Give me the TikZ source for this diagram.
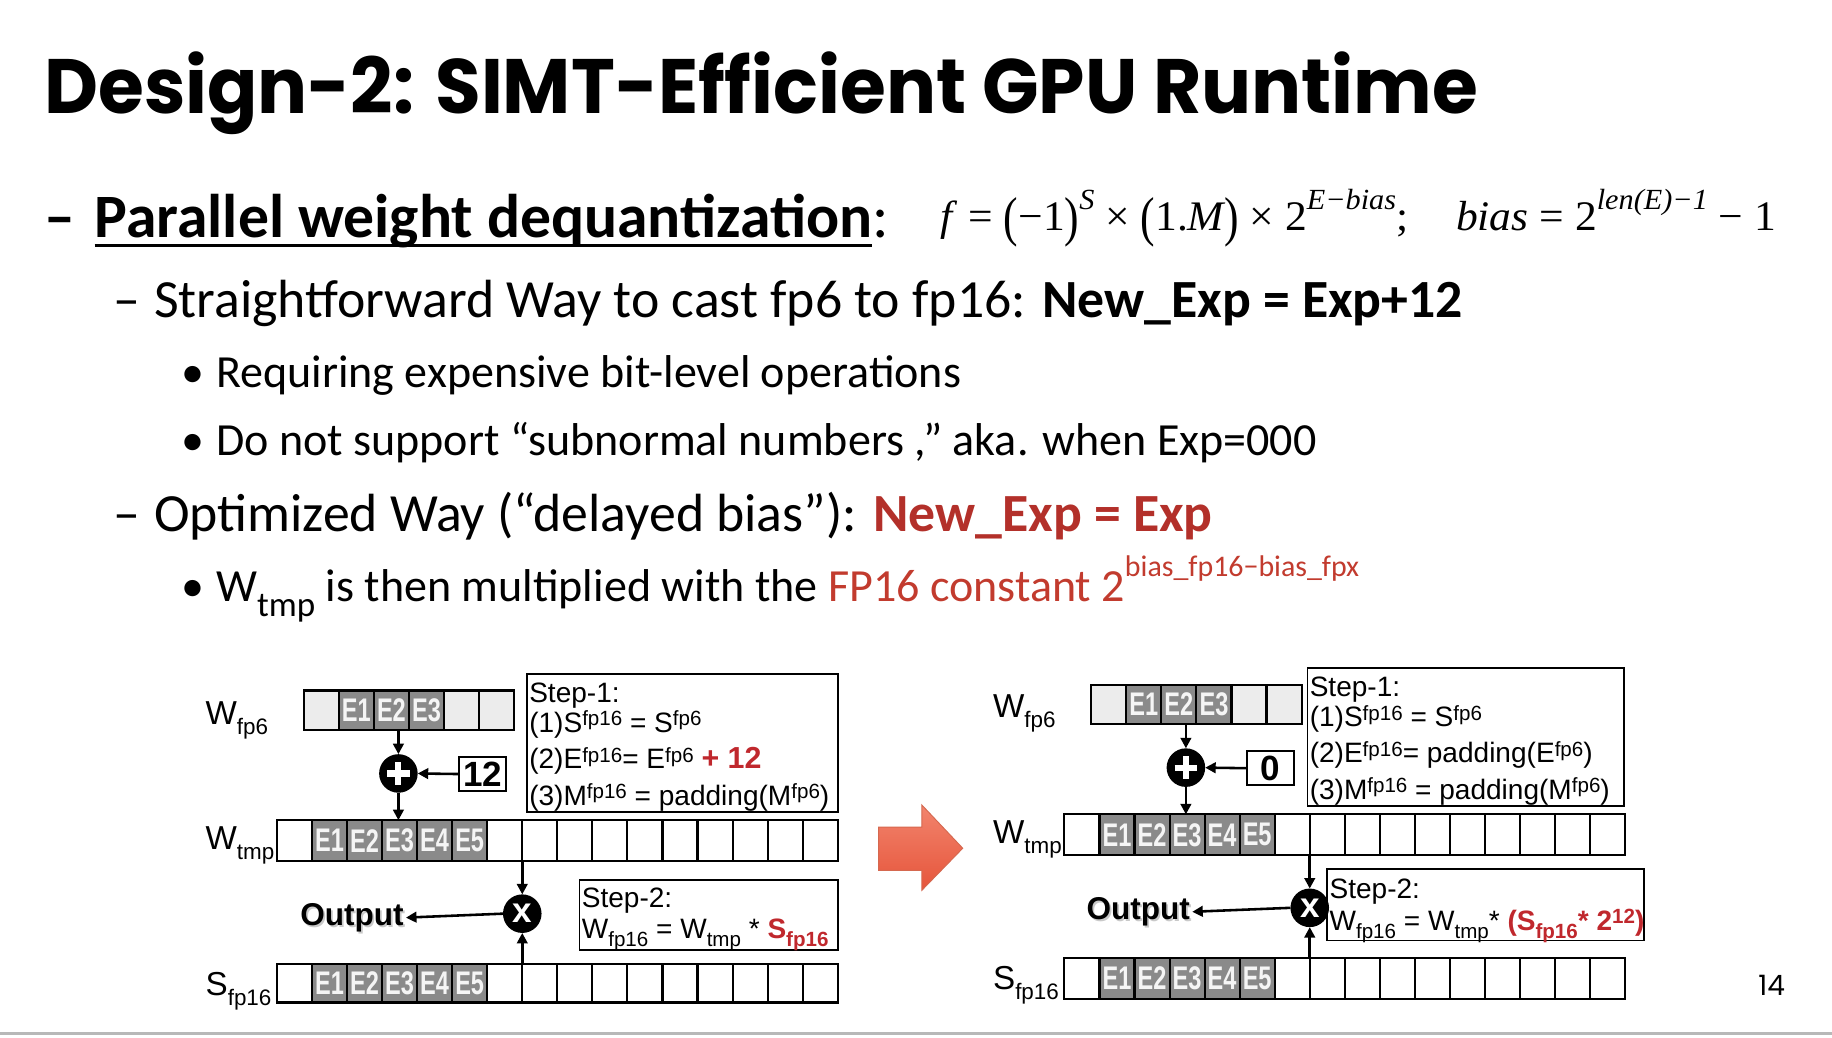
\documentclass[tikz,border=0pt]{standalone}
\usepackage{fontspec}
\usepackage{graphicx}
\usetikzlibrary{arrows.meta,calc}
\setmainfont{Carlito}
\newfontfamily\titlefont{Poppins}
\newfontfamily\arialfont{Liberation Sans}
\newfontfamily\timesfont{Liberation Serif}

\definecolor{slidered}{HTML}{B3302A}
\definecolor{constred}{HTML}{C23B2E}
\definecolor{diagred}{HTML}{C0282D}
\definecolor{ecell}{HTML}{8A8A8A}
\definecolor{lightcell}{HTML}{ECECEC}
\definecolor{arrowtop}{HTML}{F2846D}
\definecolor{arrowbot}{HTML}{E6553B}
\definecolor{arrowedge}{HTML}{D5684F}

% superscripts / subscripts for the diagram labels
\newcommand\dsup[1]{\raisebox{0.24em}{\fontsize{8.8}{8.8}\selectfont #1}}
\newcommand\dsub[1]{\raisebox{-0.3em}{\fontsize{8.8}{8.8}\selectfont #1}}
\newcommand\lsub[1]{\raisebox{-0.3em}{\fontsize{9.6}{9.6}\selectfont #1}}
\newcommand\elab[1]{\scalebox{0.72}[1]{#1}}
% formula pieces
\newcommand\fsup[1]{\raisebox{0.48em}{\fontsize{12.5}{12.5}\selectfont\itshape #1}}
\newcommand\tpar[1]{\raisebox{-0.12em}{\scalebox{1}[1.3]{#1}}}

\tikzset{
  txt/.style={anchor=base west, inner sep=0pt, outer sep=0pt},
  cell/.style={draw=black, line width=0.9pt, minimum width=15pt, inner sep=0pt,
               outer sep=0pt, anchor=north west},
  ecellbox/.style={cell, fill=ecell, text=white!96!black,
               font=\arialfont\bfseries\fontsize{14}{14}\selectfont},
  stepbox/.style={draw=black, line width=0.7pt, inner sep=0pt, outer sep=0pt,
               anchor=north west},
  steptext/.style={txt, font=\arialfont\fontsize{12}{12}\selectfont},
  labtext/.style={txt, font=\arialfont\fontsize{14.2}{14.2}\selectfont},
  opnode/.style={circle, fill=black, minimum size=16.5pt, inner sep=0pt, outer sep=0pt},
  constbox/.style={draw=black, line width=0.9pt, minimum width=20pt, minimum height=14.5pt,
               inner sep=0pt, outer sep=0pt, font=\arialfont\bfseries\fontsize{15}{15}\selectfont},
  conn/.style={line width=1.1pt, -{Triangle[length=4.5pt,width=4.5pt]}},
  outtext/.style={txt, font=\arialfont\bfseries\fontsize{13.5}{13.5}\selectfont},
  bodyA/.style={txt, font=\fontsize{23}{23}\selectfont},
  bodyB/.style={txt, font=\fontsize{19.7}{19.7}\selectfont},
}

\begin{document}
\begin{tikzpicture}[x=0.5pt,y=-0.5pt]
\useasboundingbox[fill=white] (0,0) rectangle (1568,888);

% ---------- title ----------
\node[txt, font=\titlefont\bfseries\fontsize{33}{33}\selectfont] (title) at (38,97)
  {\resizebox{613.5pt}{\height}{Design-2: SIMT-Efficient GPU Runtime}};

% ---------- text lines ----------
\node[txt, font=\bfseries\fontsize{26.4}{26.4}\selectfont] (dashA) at (38,203) {–};
\node[txt, font=\bfseries\fontsize{26.4}{26.4}\selectfont] (pwd) at (81,203) {Parallel weight dequantization};
\node[txt, font=\fontsize{26.4}{26.4}\selectfont] (colon) at (pwd.base east) {:};
\draw[line width=1.3pt] ([yshift=-3.6pt]pwd.base west) -- ([yshift=-3.6pt]pwd.base east);

\node[txt, font=\timesfont\fontsize{18}{18}\selectfont] (formula) at (805,197)
  {\resizebox{357.5pt}{\height}{{\itshape f\/} = \tpar{(}−1\tpar{)}\fsup{S} × \tpar{(}1.{\itshape M}\tpar{)} × 2\fsup{E−bias};\hspace{1.1em}{\itshape bias} = 2\fsup{len(E)−1} − 1}};

\node[bodyA] (dashB) at (97,272) {–};
\node[bodyA] (straight) at (132,272) {Straightforward Way to cast fp6 to fp16: \textbf{New\_Exp = Exp+12}};

\node[bodyB] (dotA) at (155,332) {•};
\node[bodyB] (req) at (185,332) {Requiring expensive bit-level operations};
\node[bodyB] (dotB) at (155,390) {•};
\node[bodyB] (sub) at (185,390) {Do not support “subnormal numbers ,” aka. when Exp=000};

\node[bodyA] (dashC) at (97,455) {–};
\node[bodyA] (opt) at (132,455) {Optimized Way (“delayed bias”): \textcolor{slidered}{\textbf{New\_Exp = Exp}}};

\node[bodyB] (dotC) at (155,515) {•};
\node[bodyB] (wtmp) at (185,515) {W\raisebox{-0.32em}{\fontsize{15}{15}\selectfont tmp} is then multiplied with the \textcolor{constred}{FP16 constant 2\raisebox{0.55em}{\fontsize{12.8}{12.8}\selectfont bias\_fp16−bias\_fpx}}};

% ---------- left diagram ----------
\node[labtext] (Llwf) at (176,620) {W\lsub{fp6}};
\node[labtext] (Llwt) at (176,727) {W\lsub{tmp}};
\node[labtext] (Llsf) at (176,852) {S\lsub{fp16}};

\foreach \i/\c in {0/lightcell,4/lightcell,5/lightcell}
  \node[cell, fill=\c, minimum height=17pt] (Lw\i) at ({260+\i*30},591) {};
\foreach \i in {1,2,3}
  \node[ecellbox, minimum height=17pt] (Lw\i) at ({260+\i*30},591) {\elab{E\i}};

\foreach \i in {0,6,7,...,15}
  \node[cell, fill=white, minimum height=17.5pt] (Lt\i) at ({237+\i*30},702) {};
\foreach \i in {1,...,5}
  \node[ecellbox, minimum height=17.5pt] (Lt\i) at ({237+\i*30},702) {\elab{E\i}};

\foreach \i in {0,6,7,...,15}
  \node[cell, fill=white, minimum height=16.5pt] (Ls\i) at ({237+\i*30},825) {};
\foreach \i in {1,...,5}
  \node[ecellbox, minimum height=16.5pt] (Ls\i) at ({237+\i*30},825) {\elab{E\i}};

\node[opnode] (Lplus) at (341,662) {};
\draw[white, line width=2.6pt] ([xshift=-4.8pt]Lplus.center) -- ([xshift=4.8pt]Lplus.center)
  ([yshift=-4.8pt]Lplus.center) -- ([yshift=4.8pt]Lplus.center);
\node[constbox] (Lc) at (413,662.5) {12};

\node[opnode, text=white, font=\arialfont\bfseries\fontsize{15}{15}\selectfont] (Lx) at (447,782) {x};
\node[outtext, text=black!35, opacity=0.6] (Loutsh) at (258.5,794) {Output};
\node[outtext] (Lout) at (257,792) {Output};

\draw[conn] (Lplus |- Lw2.south) -- (Lplus.north);
\draw[conn] (Lplus.south) -- (Lplus |- Lt3.north);
\draw[conn] (Lc.west) -- (Lplus.east);
\draw[conn] (Lx |- Lt6.south) -- (Lx.north);
\draw[conn] (Lx |- Ls6.north) -- (Lx.south);
\draw[conn] (Lx.west) -- ([xshift=1pt]Lout.east);

\node[stepbox, minimum width=133pt, minimum height=59pt] (LstepA) at (451,577) {};
\node[steptext] (LsA0) at (453,601) {Step-1:};
\node[steptext] (LsA1) at (453,627) {(1)S\dsup{fp16} = S\dsup{fp6}};
\node[steptext] (LsA2) at (453,658) {(2)E\dsup{fp16}= E\dsup{fp6} \textcolor{diagred}{\bfseries\fontsize{13}{13}\selectfont + 12}};
\node[steptext] (LsA3) at (453,689) {(3)M\dsup{fp16} = padding(M\dsup{fp6})};

\node[stepbox, minimum width=110.5pt, minimum height=30pt] (LstepB) at (496,753) {};
\node[steptext] (LsB0) at (498,777) {Step-2:};
\node[steptext] (LsB1) at (498,803) {W\dsub{fp16} = W\dsub{tmp} * \textcolor{diagred}{\bfseries S\dsub{fp16}}};

% ---------- arrow between the two schemes ----------
\path[top color=arrowtop, bottom color=arrowbot, draw=arrowedge, line width=0.4pt]
  (752,708) -- (789,708) -- (789,689) -- (824,726) -- (789,762) -- (789,745) -- (752,745) -- cycle;

% ---------- right diagram ----------
\node[labtext] (Rlwf) at (850,614) {W\lsub{fp6}};
\node[labtext] (Rlwt) at (850,722) {W\lsub{tmp}};
\node[labtext] (Rlsf) at (850,847) {S\lsub{fp16}};

\foreach \i/\c in {0/lightcell,4/lightcell,5/lightcell}
  \node[cell, fill=\c, minimum height=17pt] (Rw\i) at ({934+\i*30},586) {};
\foreach \i in {1,2,3}
  \node[ecellbox, minimum height=17pt] (Rw\i) at ({934+\i*30},586) {\elab{E\i}};

\foreach \i in {0,6,7,...,15}
  \node[cell, fill=white, minimum height=17.5pt] (Rt\i) at ({911+\i*30},697) {};
\foreach \i in {1,...,5}
  \node[ecellbox, minimum height=17.5pt] (Rt\i) at ({911+\i*30},697) {\elab{E\i}};

\foreach \i in {0,6,7,...,15}
  \node[cell, fill=white, minimum height=17.5pt] (Rs\i) at ({911+\i*30},820) {};
\foreach \i in {1,...,5}
  \node[ecellbox, minimum height=17.5pt] (Rs\i) at ({911+\i*30},820) {\elab{E\i}};

\node[opnode] (Rplus) at (1015,657) {};
\draw[white, line width=2.6pt] ([xshift=-4.8pt]Rplus.center) -- ([xshift=4.8pt]Rplus.center)
  ([yshift=-4.8pt]Rplus.center) -- ([yshift=4.8pt]Rplus.center);
\node[constbox] (Rc) at (1087.5,657.5) {0};

\node[opnode, text=white, font=\arialfont\bfseries\fontsize{15}{15}\selectfont] (Rx) at (1121,777) {x};
\node[outtext, text=black!35, opacity=0.6] (Routsh) at (931.5,789) {Output};
\node[outtext] (Rout) at (930,787) {Output};

\draw[conn] (Rplus |- Rw2.south) -- (Rplus.north);
\draw[conn] (Rplus.south) -- (Rplus |- Rt3.north);
\draw[conn] (Rc.west) -- (Rplus.east);
\draw[conn] (Rx |- Rt6.south) -- (Rx.north);
\draw[conn] (Rx |- Rs6.north) -- (Rx.south);
\draw[conn] (Rx.west) -- ([xshift=1pt]Rout.east);

\node[stepbox, minimum width=135.5pt, minimum height=59pt] (RstepA) at (1119,572) {};
\node[steptext] (RsA0) at (1121,596) {Step-1:};
\node[steptext] (RsA1) at (1121,622) {(1)S\dsup{fp16} = S\dsup{fp6}};
\node[steptext] (RsA2) at (1121,653) {(2)E\dsup{fp16}= padding(E\dsup{fp6})};
\node[steptext] (RsA3) at (1121,684) {(3)M\dsup{fp16} = padding(M\dsup{fp6})};

\node[stepbox, minimum width=135.5pt, minimum height=30.5pt] (RstepB) at (1136,744) {};
\node[steptext] (RsB0) at (1138,769) {Step-2:};
\node[steptext] (RsB1) at (1138,796) {W\dsub{fp16} = W\dsub{tmp}* \textcolor{diagred}{\bfseries (S\dsub{fp16}* 2\dsup{12})}};

% ---------- page number and footer rule ----------
\node[txt, font=\titlefont\fontsize{12}{12}\selectfont] (page) at (1505,852) {14};
\draw[line width=1.3pt, color=black!28] (0,884.5) -- (1568,884.5);
\end{tikzpicture}
\end{document}
